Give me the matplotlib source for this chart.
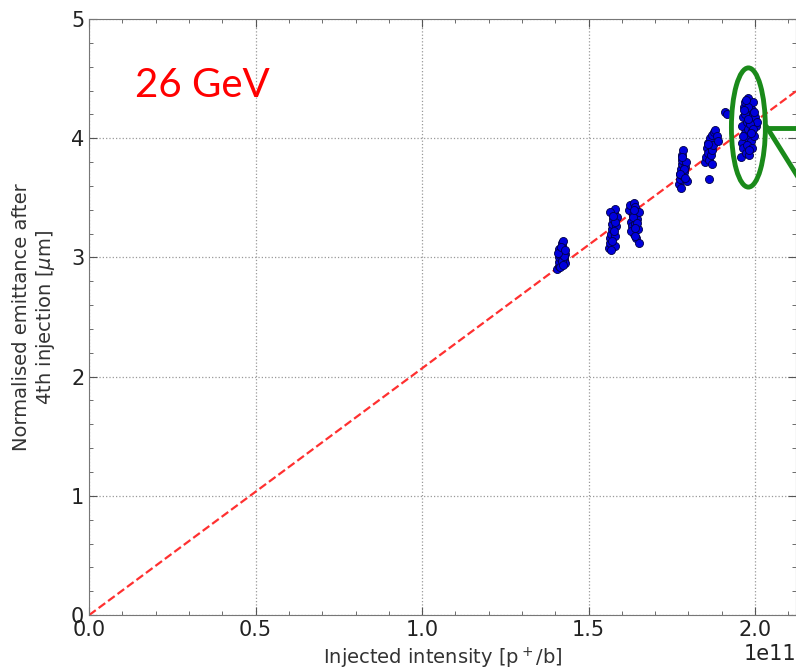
import matplotlib.pyplot as plt
from matplotlib.patches import Ellipse
from matplotlib.ticker import MultipleLocator

# Measured emittance after the 4th injection vs injected intensity (units of 1e11 p/b)
int_a = [1.405, 1.41, 1.41, 1.412, 1.415, 1.415, 1.418, 1.42, 1.42, 1.422, 1.425, 1.425,
         1.428, 1.43, 1.41, 1.415, 1.42, 1.425, 1.408, 1.418, 1.422, 1.428]
emit_a = [2.90, 2.93, 2.96, 3.00, 3.02, 3.05, 3.08, 3.10, 3.12, 3.14, 3.00, 2.98,
          2.95, 3.03, 3.07, 2.92, 2.97, 3.01, 3.04, 3.09, 2.94, 3.06]

int_b = [1.562, 1.565, 1.565, 1.568, 1.57, 1.57, 1.572, 1.575, 1.575, 1.578, 1.58, 1.58,
         1.582, 1.585, 1.565, 1.57, 1.575, 1.58, 1.568, 1.572]
emit_b = [3.08, 3.12, 3.16, 3.20, 3.24, 3.28, 3.32, 3.36, 3.39, 3.41, 3.10, 3.18,
          3.26, 3.34, 3.38, 3.14, 3.22, 3.30, 3.06, 3.35]

int_c = [1.622, 1.625, 1.628, 1.63, 1.632, 1.635, 1.635, 1.638, 1.64, 1.642, 1.645, 1.648,
         1.65, 1.652, 1.628, 1.632, 1.638, 1.645, 1.64, 1.635]
emit_c = [3.40, 3.44, 3.30, 3.26, 3.36, 3.20, 3.46, 3.28, 3.42, 3.16, 3.32, 3.24,
          3.38, 3.12, 3.22, 3.34, 3.18, 3.29, 3.25, 3.40]

int_d = [1.772, 1.775, 1.775, 1.778, 1.78, 1.78, 1.782, 1.785, 1.785, 1.788, 1.79, 1.792,
         1.795, 1.778, 1.782, 1.788, 1.774, 1.79]
emit_d = [3.62, 3.66, 3.70, 3.74, 3.78, 3.82, 3.86, 3.90, 3.68, 3.72, 3.76, 3.80,
          3.64, 3.58, 3.84, 3.74, 3.70, 3.67]

int_e = [1.85, 1.852, 1.855, 1.858, 1.86, 1.862, 1.865, 1.868, 1.87, 1.872, 1.875, 1.878,
         1.88, 1.885, 1.888, 1.862, 1.87, 1.858, 1.91, 1.915]
emit_e = [3.80, 3.84, 3.92, 3.88, 3.96, 3.82, 4.00, 3.86, 4.03, 3.90, 3.94, 4.05,
          4.07, 4.02, 3.98, 3.66, 3.78, 3.95, 4.22, 4.20]

int_f = [1.958, 1.96, 1.962, 1.965, 1.965, 1.968, 1.97, 1.97, 1.972, 1.975, 1.975, 1.978,
         1.98, 1.98, 1.982, 1.985, 1.985, 1.988, 1.99, 1.99, 1.992, 1.995, 1.995, 1.998,
         2.0, 2.002, 2.005, 1.965, 1.97, 1.975, 1.98, 1.985, 1.99, 1.995, 1.972, 1.988,
         1.978, 1.968, 1.982, 1.996]
emit_f = [3.84, 3.96, 4.10, 4.18, 3.92, 4.26, 4.04, 4.30, 3.88, 4.14, 4.22, 4.00,
          4.34, 4.08, 3.86, 4.20, 4.28, 3.98, 4.12, 4.24, 4.06, 4.16, 4.30, 4.02,
          4.18, 4.10, 4.14, 4.02, 4.20, 3.94, 4.26, 4.12, 3.92, 4.08, 4.32, 4.04,
          4.16, 4.24, 3.90, 4.22]

fit_slope = 2.07  # um per 1e11 p/b

ints = [int_a, int_b, int_c, int_d, int_e, int_f]
emits = [emit_a, emit_b, emit_c, emit_d, emit_e, emit_f]

fig = plt.figure(figsize=(7.96, 6.70), dpi=100)
ax = fig.add_axes([0.112, 0.082, 0.888, 0.8896])

xmax = 2.123
ax.plot([0, xmax * 1e11], [0, fit_slope * xmax], '--', color='#ff3030', lw=1.6, zorder=2)

for xs, ys in zip(ints, emits):
    ax.plot([v * 1e11 for v in xs], ys, 'o', ms=5.8, mfc='#0000dd', mec='#000044',
            mew=0.6, zorder=3)

ax.set_xlim(0, xmax * 1e11)
ax.set_ylim(0, 5)
ax.xaxis.set_major_locator(MultipleLocator(0.5e11))
ax.xaxis.set_minor_locator(MultipleLocator(0.1e11))
ax.yaxis.set_major_locator(MultipleLocator(1))
ax.yaxis.set_minor_locator(MultipleLocator(0.2))
ax.ticklabel_format(axis='x', style='sci', scilimits=(0, 0), useMathText=False)
ax.tick_params(which='both', direction='in', top=True, right=True, colors='#555555',
               labelcolor='#222222', labelsize=15)
ax.tick_params(which='major', length=6)
ax.tick_params(which='minor', length=3)
ax.xaxis.get_offset_text().set_fontsize(15)
ax.xaxis.get_offset_text().set_color('#222222')
ax.grid(True, which='major', ls=':', color='#999999', lw=0.9)
for sp in ax.spines.values():
    sp.set_color('#777777')

ax.set_xlabel('Injected intensity [p$^+$/b]', fontsize=14, color='#333333', labelpad=4)
ax.set_ylabel('Normalised emittance after\n4th injection [$\\mu$m]', fontsize=14,
              color='#333333', labelpad=10)

ax.text(0.138e11, 4.35, '26 GeV', color='red', fontsize=29, family='Lato')

# green callout marking the highest-intensity cluster
ax.add_patch(Ellipse((1.98e11, 4.09), 0.102e11, 1.0, fill=False, ec='#1a8a1a', lw=3.5,
                     zorder=4))
ax.plot([2.036e11, 2.13e11], [4.09, 4.09], color='#1a8a1a', lw=3.5, clip_on=False, zorder=4)
ax.plot([2.036e11, 2.13e11], [4.09, 3.67], color='#1a8a1a', lw=3.5, clip_on=False, zorder=4)

fig.savefig('out.png', dpi=100)
